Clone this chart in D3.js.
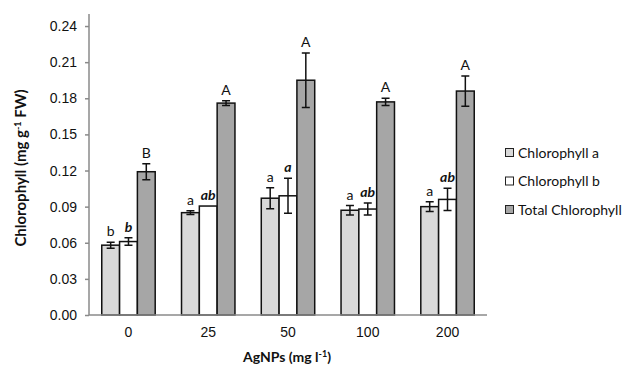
<!DOCTYPE html>
<html>
<head>
<meta charset="utf-8">
<script src="https://cdn.jsdelivr.net/npm/d3@7"></script>
<style>
  body { margin: 0; background: #fff; }
  svg { font-family: Lato, "Liberation Sans", sans-serif; }
</style>
</head>
<body>
<script>
// AgNPs doses (mg l-1)
var doses = ["0", "25", "50", "100", "200"];

// chlorophyll values (mg g-1 FW) and error bars
var chlA     = [0.058, 0.085, 0.097, 0.087, 0.090];
var chlAErr  = [0.0025, 0.0015, 0.0087, 0.0039, 0.0040];
var chlB     = [0.061, 0.0905, 0.099, 0.088, 0.096];
var chlBErr  = [0.0031, 0.0, 0.0145, 0.0050, 0.0093];
var total    = [0.119, 0.176, 0.195, 0.177, 0.186];
var totalErr = [0.0066, 0.0020, 0.0226, 0.0030, 0.0126];

// significance letters
var chlALetters  = ["b", "a", "a", "a", "a"];
var chlBLetters  = ["b", "ab", "a", "ab", "ab"];
var totalLetters = ["B", "A", "A", "A", "A"];

var seriesNames = ["Chlorophyll a", "Chlorophyll b", "Total Chlorophyll"];
var seriesColors = ["#d9d9d9", "#ffffff", "#a6a6a6"];
var yTicks = [0, 0.03, 0.06, 0.09, 0.12, 0.15, 0.18, 0.21, 0.24];

var width = 638, height = 369;
var pLeft = 89, pRight = 487, pTop = 14, pBottom = 315;

var svg = d3.select("body").append("svg")
    .attr("width", width)
    .attr("height", height);

var x = d3.scaleBand().domain(doses).range([pLeft, pRight]).paddingInner(0.33).paddingOuter(0.16);
var x1 = d3.scaleBand().domain([0, 1, 2]).range([0, x.bandwidth()]);
var y = d3.scaleLinear().domain([0, 0.25]).range([pBottom, pTop]);

// y axis
var yAxis = svg.append("g")
    .attr("transform", "translate(" + pLeft + ",0)")
    .call(d3.axisLeft(y).tickValues(yTicks).tickSize(4).tickPadding(8).tickFormat(d3.format(".2f")));
yAxis.select(".domain").attr("stroke", "#8a8a8a").attr("stroke-width", 1.5).attr("d", "M0," + pTop + "V" + pBottom);
yAxis.selectAll(".tick line").attr("stroke", "#8a8a8a").attr("stroke-width", 1.5);
yAxis.selectAll(".tick text").attr("font-size", 14).attr("fill", "#111");

// bars
var series = [
  {vals: chlA, err: chlAErr, letters: chlALetters, style: "normal"},
  {vals: chlB, err: chlBErr, letters: chlBLetters, style: "italic"},
  {vals: total, err: totalErr, letters: totalLetters, style: "normal"}
];

series.forEach(function(s, si){
    var g = svg.append("g");
    doses.forEach(function(d, i){
        var bx = x(d) + x1(si);
        var bw = x1.bandwidth();
        g.append("rect")
            .attr("x", bx)
            .attr("y", y(s.vals[i]))
            .attr("width", bw)
            .attr("height", y(0) - y(s.vals[i]))
            .attr("fill", seriesColors[si])
            .attr("stroke", "#111")
            .attr("stroke-width", 1.5);

        var cx = bx + bw / 2;
        if (s.err[i] > 0) {
            var hi = y(s.vals[i] + s.err[i]), lo = y(s.vals[i] - s.err[i]);
            g.append("path")
                .attr("d", "M" + cx + "," + hi + "V" + lo +
                           "M" + (cx - 4) + "," + hi + "H" + (cx + 4) +
                           "M" + (cx - 4) + "," + lo + "H" + (cx + 4))
                .attr("stroke", "#111")
                .attr("stroke-width", 1.5)
                .attr("fill", "none");
        }
        g.append("text")
            .attr("x", cx)
            .attr("y", y(s.vals[i] + s.err[i]) - 6)
            .attr("text-anchor", "middle")
            .attr("font-size", 14)
            .attr("font-style", s.style)
            .attr("font-weight", s.style == "italic" ? "bold" : "normal")
            .attr("fill", "#111")
            .text(s.letters[i]);
    });
});

// x axis
var xAxis = svg.append("g")
    .attr("transform", "translate(0," + pBottom + ")")
    .call(d3.axisBottom(x).tickSize(0).tickPadding(12));
xAxis.select(".domain").attr("stroke", "#8a8a8a").attr("stroke-width", 1.5).attr("d", "M" + pLeft + ",0H" + pRight);
xAxis.selectAll(".tick text").attr("font-size", 14).attr("fill", "#111");

// axis titles
svg.append("text")
    .attr("transform", "translate(26,168) rotate(-90)")
    .attr("text-anchor", "middle")
    .attr("font-size", 15)
    .attr("font-weight", "bold")
    .attr("fill", "#111")
    .html('Chlorophyll (mg g<tspan baseline-shift="super" font-size="9">-1</tspan> FW)');

svg.append("text")
    .attr("x", 287)
    .attr("y", 362)
    .attr("text-anchor", "middle")
    .attr("font-size", 14)
    .attr("font-weight", "bold")
    .attr("fill", "#111")
    .html('AgNPs (mg l<tspan baseline-shift="super" font-size="9">-1</tspan>)');

// legend
var legend = svg.append("g").attr("transform", "translate(505,148)");
seriesNames.forEach(function(name, i){
    legend.append("rect")
        .attr("x", 0.5).attr("y", i * 28.5 + 0.5)
        .attr("width", 8).attr("height", 8)
        .attr("fill", seriesColors[i])
        .attr("stroke", "#222")
        .attr("stroke-width", 1);
    legend.append("text")
        .attr("x", 13).attr("y", i * 28.5 + 9.5)
        .attr("font-size", 14)
        .attr("fill", "#111")
        .text(name);
});
</script>
</body>
</html>
